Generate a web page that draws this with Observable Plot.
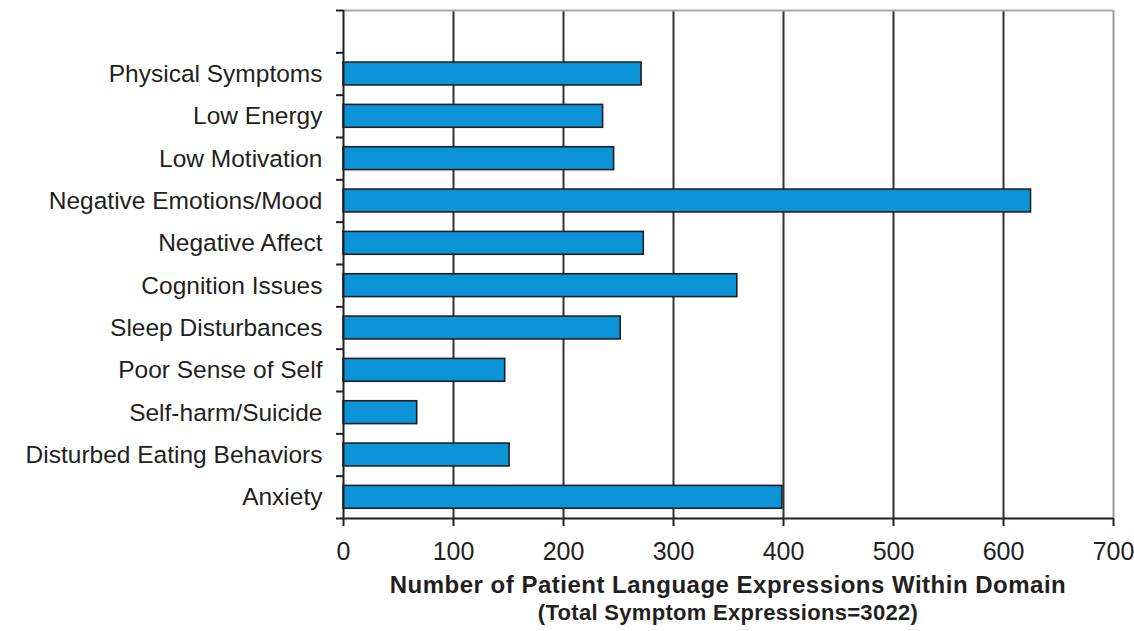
<!DOCTYPE html>
<html><head><meta charset="utf-8">
<script src="https://cdn.jsdelivr.net/npm/d3@7"></script>
<script src="https://cdn.jsdelivr.net/npm/@observablehq/plot@0.6"></script>
<style>
body{margin:0;background:#fff;}
.t{position:absolute;left:343px;width:770px;text-align:center;font-family:"Liberation Sans",Arial,sans-serif;font-weight:bold;color:#231f20;white-space:nowrap;line-height:1.15;}
</style></head><body>
<div id="chart"></div>
<div class="t" id="t1" style="top:571px;font-size:24px;letter-spacing:0.5px;">Number of Patient Language Expressions Within Domain</div>
<div class="t" id="t2" style="top:600px;font-size:22px;letter-spacing:0.3px;">(Total Symptom Expressions=3022)</div>
<script>
const categories = ["Physical Symptoms","Low Energy","Low Motivation","Negative Emotions/Mood","Negative Affect","Cognition Issues","Sleep Disturbances","Poor Sense of Self","Self-harm/Suicide","Disturbed Eating Behaviors","Anxiety"];
const counts = [271,236,246,625,273,358,252,147,67,151,399];
const xTicks = [0,100,200,300,400,500,600,700];

const data = categories.map((c,i)=>({category:c, count:counts[i], slot:i+1}));
const labelAt = new Map(data.map(d=>[d.slot+0.5, d.category]));
const ink = "#231f20";

const plot = Plot.plot({
  width:1134, height:570, marginLeft:343, marginRight:21, marginTop:10, marginBottom:52,
  style:{background:"#fff", color:ink},
  x:{domain:[0,700]},
  y:{domain:[0,12], reverse:true},
  marks:[
    Plot.ruleX(xTicks.slice(1,-1), {y1:0, y2:12, stroke:"#333", strokeWidth:2}),
    Plot.ruleX([700], {y1:0, y2:12, stroke:"#9a9a9a", strokeWidth:2}),
    Plot.ruleY([0], {x1:0, x2:700, stroke:"#aaa", strokeWidth:2}),
    Plot.rectX(data, {x1:0, x2:"count", y1:d=>d.slot+0.23, y2:d=>d.slot+0.77, fill:"#0a93d6", stroke:ink, strokeWidth:1.6}),
    Plot.ruleX([0], {y1:0, y2:12, stroke:ink, strokeWidth:2}),
    Plot.ruleY([12], {x1:0, x2:700, stroke:ink, strokeWidth:2}),
    Plot.axisX({ticks:xTicks, tickSize:8, tickPadding:16, fontSize:25, fontFamily:"'Liberation Sans',Arial,sans-serif", stroke:ink, strokeWidth:2, label:null}),
    Plot.axisY({ticks:d3.range(0,13), tickSize:7, tickFormat:()=>"", stroke:ink, strokeWidth:2, label:null}),
    Plot.axisY({ticks:data.map(d=>d.slot+0.5), tickFormat:d=>labelAt.get(d), tickSize:0, tickPadding:21, fontSize:24.5, fontFamily:"'Liberation Sans',Arial,sans-serif", label:null})
  ]
});
document.getElementById("chart").append(plot);
</script>
</body></html>
